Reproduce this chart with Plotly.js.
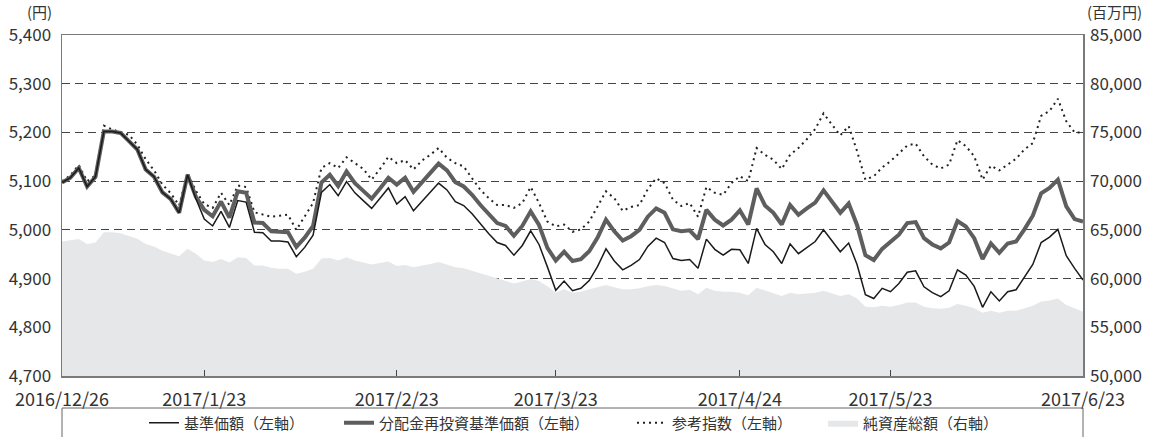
<!DOCTYPE html>
<html>
<head>
<meta charset="utf-8">
<script src="https://cdn.plot.ly/plotly-3.0.1.min.js"></script>
<style>html,body{margin:0;padding:0;background:#fff;}#chart{width:1161px;height:437px;}</style>
</head>
<body>
<div id="chart"></div>
<script>
// Business-day calendar (categories): 2016/12/26 .. 2017/6/23, Japanese holidays excluded
const startDate = "2016-12-26";
const endDate = "2017-06-23";
const holidays = ["2017-01-02", "2017-01-03", "2017-01-09", "2017-03-20", "2017-05-03", "2017-05-04", "2017-05-05"];

const tickLabels = ["2016/12/26", "2017/1/23", "2017/2/23", "2017/3/23", "2017/4/24", "2017/5/23", "2017/6/23"];

// 基準価額 (円, left axis)
const nav = [
5097,5107,5127,5089,5109,5202,5202,5199,5182,5165,
5124,5109,5077,5063,5035,5113,5064,5022,5008,5038,
5005,5060,5057,4995,4994,4977,4977,4975,4945,4964,
4989,5077,5093,5070,5099,5076,5060,5044,5065,5086,
5053,5068,5039,5059,5077,5096,5082,5058,5050,5033,
5012,4992,4974,4968,4948,4968,4998,4970,4924,4876,
4895,4875,4880,4896,4925,4961,4936,4918,4927,4939,
4966,4983,4974,4941,4937,4939,4921,4981,4960,4948,
4960,4959,4931,5003,4970,4955,4931,4971,4951,4964,
4976,5000,4978,4955,4973,4929,4867,4859,4880,4873,
4890,4913,4916,4883,4871,4863,4875,4918,4907,4884,
4841,4873,4854,4873,4877,4902,4929,4974,4985,5001,
4947,4921,4897
];

// 分配金再投資基準価額 (円, left axis)
const navReinvested = [
5097,5107,5127,5089,5109,5202,5202,5199,5182,5165,
5124,5109,5077,5063,5035,5113,5068,5041,5028,5058,
5025,5079,5076,5015,5014,4997,4996,4995,4965,4984,
5008,5097,5113,5090,5120,5096,5080,5064,5085,5107,
5093,5107,5078,5098,5117,5136,5122,5098,5089,5072,
5051,5031,5014,5008,4988,5008,5038,5010,4963,4937,
4955,4936,4940,4956,4984,5021,4997,4978,4987,5000,
5027,5044,5035,5001,4997,4999,4981,5041,5021,5009,
5021,5040,5011,5085,5050,5035,5011,5051,5031,5044,
5056,5081,5058,5035,5054,5010,4948,4938,4961,4975,
4990,5014,5016,4983,4970,4962,4974,5018,5007,4983,
4940,4972,4953,4972,4976,5001,5029,5075,5086,5103,
5048,5022,5017
];

// 参考指数 (left axis)
const refIndex = [
5100,5112,5133,5100,5112,5214,5206,5200,5195,5175,
5145,5122,5093,5075,5050,5117,5080,5053,5045,5076,
5051,5091,5088,5036,5031,5027,5029,5031,5000,5027,
5055,5127,5137,5127,5149,5137,5125,5103,5125,5150,
5137,5143,5124,5142,5154,5168,5148,5137,5130,5106,
5082,5065,5051,5051,5045,5055,5088,5055,5017,5007,
5011,4996,5001,5017,5049,5079,5065,5039,5047,5051,
5084,5106,5096,5062,5049,5055,5027,5088,5076,5072,
5096,5110,5100,5168,5154,5144,5125,5154,5168,5186,
5207,5239,5216,5194,5213,5162,5103,5110,5128,5141,
5157,5173,5177,5151,5134,5126,5134,5184,5172,5151,
5103,5132,5122,5134,5146,5165,5178,5234,5244,5269,
5223,5200,5200
];

// 純資産総額 (百万円, right axis)
const netAssets = [
63800,63900,64050,63550,63700,64750,64750,64650,64400,64100,
63550,63300,62850,62600,62300,63050,62550,61850,61700,62000,
61650,62200,62100,61350,61350,61100,61000,61000,60500,60700,
61000,62050,62100,61850,62200,61850,61650,61450,61600,61750,
61300,61400,61150,61300,61500,61700,61400,61150,61050,60800,
60550,60250,60050,59800,59500,59700,59950,59750,59200,58550,
58900,58550,58650,58900,59100,59350,59100,58900,58900,59000,
59200,59350,59250,59000,58750,58850,58400,59050,58750,58650,
58650,58550,58300,59050,58800,58500,58200,58550,58400,58500,
58550,58750,58500,58200,58400,57950,57100,57050,57200,57100,
57300,57550,57550,57100,56950,56900,57000,57400,57200,56950,
56500,56700,56500,56700,56700,56950,57200,57650,57750,57950,
57300,56950,56600
];

const seriesNames = ["基準価額（左軸）", "分配金再投資基準価額（左軸）", "参考指数（左軸）", "純資産総額（右軸）"];

function buildDates() {
  const out = [];
  const d = new Date(startDate + "T00:00:00Z");
  const end = new Date(endDate + "T00:00:00Z");
  while (d <= end) {
    const iso = d.toISOString().slice(0, 10);
    const wd = d.getUTCDay();
    if (wd !== 0 && wd !== 6 && holidays.indexOf(iso) < 0) {
      out.push(d.getUTCFullYear() + "/" + (d.getUTCMonth() + 1) + "/" + d.getUTCDate());
    }
    d.setUTCDate(d.getUTCDate() + 1);
  }
  return out;
}
const dates = buildDates();

const FONT = '"Noto Sans CJK JP", "Noto Sans", sans-serif';
const W = 1161, H = 437, ML = 62, MR = 78, MT = 35, MB = 61;
const PW = W - ML - MR;
function px2x(px) { return (px - ML) / PW; }

const traces = [
  {x: dates, y: netAssets, yaxis: 'y2', type: 'scatter', mode: 'lines', fill: 'tozeroy',
   fillcolor: '#e6e7e9', line: {width: 0, color: '#e6e7e9'}, name: seriesNames[3], legend: 'legend4'},
  {x: dates, y: refIndex, type: 'scatter', mode: 'lines',
   line: {color: '#222', width: 2, dash: '2px,4px'}, name: seriesNames[2], legend: 'legend3'},
  {x: dates, y: navReinvested, type: 'scatter', mode: 'lines',
   line: {color: '#5e5e5e', width: 4}, name: seriesNames[1], legend: 'legend2'},
  {x: dates, y: nav, type: 'scatter', mode: 'lines',
   line: {color: '#1a1a1a', width: 1.5}, name: seriesNames[0], legend: 'legend'}
];

function legendAt(px) {
  return {orientation: 'h', x: px2x(px), xanchor: 'left', yref: 'container', y: 14 / H, yanchor: 'middle',
          font: {family: FONT, size: 15, color: '#333'}, bgcolor: 'rgba(0,0,0,0)', borderwidth: 0};
}

const layout = {
  width: W, height: H,
  margin: {l: ML, r: MR, t: MT, b: MB, autoexpand: false},
  paper_bgcolor: '#fff', plot_bgcolor: '#fff',
  font: {family: FONT, color: '#333', size: 17},
  showlegend: true,
  legend: legendAt(144),
  legend2: legendAt(339),
  legend3: legendAt(632),
  legend4: legendAt(823),
  xaxis: {type: 'category', range: [0, dates.length - 1], tickvals: tickLabels, ticktext: tickLabels,
          ticks: 'inside', ticklen: 6, tickcolor: '#444', tickwidth: 1,
          showline: true, linecolor: '#7a7a7a', linewidth: 1.5, mirror: true,
          showgrid: false, zeroline: false, tickangle: 0, ticklabelstandoff: 7,
          tickfont: {family: FONT, size: 18, color: '#333'}},
  yaxis: {range: [4700, 5400], dtick: 100, tick0: 4700, tickformat: ',d',
          showgrid: true, gridcolor: '#444', gridwidth: 1, griddash: '8px,5px',
          showline: true, linecolor: '#7a7a7a', linewidth: 1.5, mirror: true,
          ticks: '', zeroline: false, ticklabelstandoff: 6,
          tickfont: {family: FONT, size: 17, color: '#333'}},
  yaxis2: {overlaying: 'y', side: 'right', range: [50000, 85000], dtick: 5000, tick0: 50000,
           tickformat: ',d', showgrid: false, zeroline: false, showline: false, ticks: '',
           ticklabelstandoff: 6, tickfont: {family: FONT, size: 17, color: '#333'}},
  shapes: [
    {type: 'rect', xref: 'paper', yref: 'paper', x0: 0, x1: 1, y0: -0.3, y1: -(408 - (H - MB)) / (H - MT - MB),
     line: {color: '#666', width: 1}, fillcolor: 'rgba(0,0,0,0)'}
  ],
  annotations: [
    {text: '(円)', xref: 'paper', yref: 'paper', x: 0, y: 1, xanchor: 'right', yanchor: 'middle',
     xshift: -8, yshift: 24, showarrow: false, font: {family: FONT, size: 15, color: '#333'}},
    {text: '(百万円)', xref: 'paper', yref: 'paper', x: 1, y: 1, xanchor: 'left', yanchor: 'middle',
     xshift: 2, yshift: 24, showarrow: false, font: {family: FONT, size: 15, color: '#333'}}
  ]
};

Plotly.newPlot('chart', traces, layout, {displayModeBar: false, staticPlot: true});
</script>
</body>
</html>
